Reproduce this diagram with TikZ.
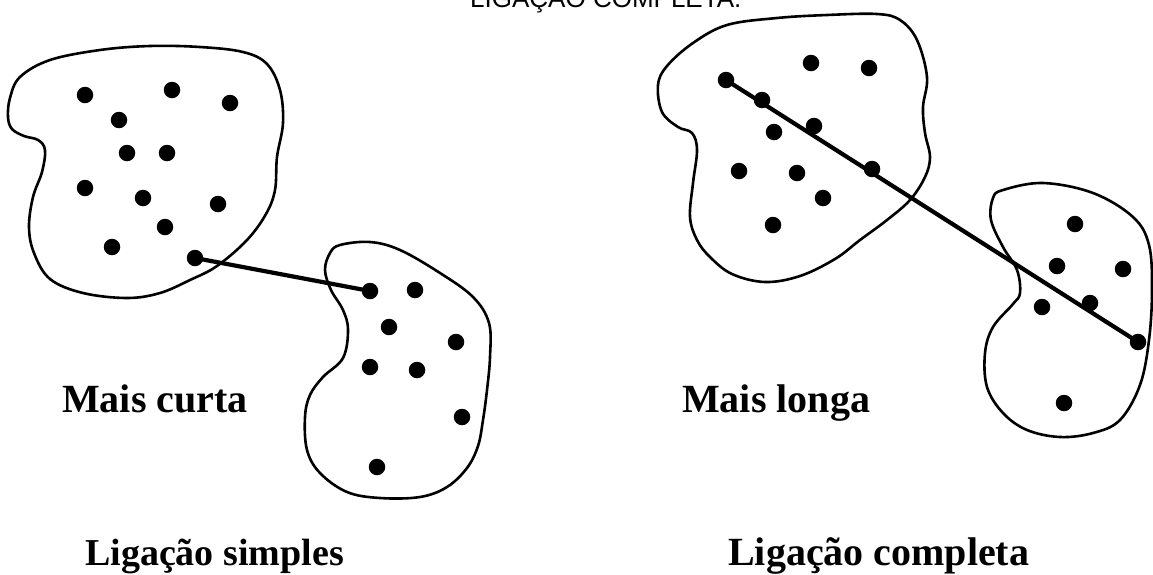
\documentclass[tikz,border=0pt]{standalone}
\usepackage{fontspec}
\setmainfont{Liberation Serif}
\newfontfamily\headfont{Liberation Sans}
\begin{document}
\begin{tikzpicture}[x=1pt,y=-1pt,
  blob/.style={draw=black,line width=2.6pt,line join=round},
  dot/.style={circle,fill=black,inner sep=0pt,minimum size=16.5pt},
  link/.style={draw=black,line width=4.2pt},
  caption/.style={anchor=base west,inner sep=0pt,font=\fontsize{40}{48}\selectfont\bfseries},
  title/.style={anchor=base west,inner sep=0pt,font=\headfont\fontsize{26}{31}\selectfont}]
\useasboundingbox (0,0) rectangle (1153,574);

% heading, partly cut by the top edge
\node[title] (head) at (470,7) {LIGAÇÃO COMPLETA.};

% ---------- single linkage ----------
\draw[blob] plot[smooth cycle,tension=0.6] coordinates {
  (20,77) (50,60) (100,50) (150,46) (200,47) (243,52) (267,64) (280,90)
  (283,123) (277,157) (275,190) (266,214) (247,240) (217,266) (190,280)
  (160,293) (127,298) (83,293) (50,279) (34,253) (29,227) (33,197)
  (42,172) (45,150) (38,140) (24,136) (12,129) (8,117) (10,98)};
\draw[blob] plot[smooth cycle,tension=0.6] coordinates {
  (340,245) (370,242) (400,250) (440,273) (473,297) (489,323) (490,357)
  (487,390) (483,420) (478,446) (467,468) (447,487) (420,497) (380,498)
  (347,492) (320,473) (307,450) (305,417) (310,395) (323,377) (343,358)
  (348,330) (343,310) (331,290) (325,270) (330,253)};

\foreach \n/\p in {a1/{(85,95)},a2/{(172,90)},a3/{(230,103)},a4/{(119,120)},
  a5/{(127,153)},a6/{(167,153)},a7/{(85,188)},a8/{(143,198)},a9/{(218,204)},
  a10/{(165,227)},a11/{(112,247)},a12/{(195,258)},
  b1/{(370,291)},b2/{(415,290)},b3/{(389,327)},b4/{(456,342)},b5/{(370,367)},
  b6/{(417,370)},b7/{(462,417)},b8/{(377,467)}}
  \node[dot] (\n) at \p {};

\draw[link] (a12.center) -- (b1.center);

\node[caption] (short) at (62,412) {Mais curta};
\node[caption,font=\fontsize{38}{46}\selectfont\bfseries] (single) at (85,565) {Ligação simples};

% ---------- complete linkage ----------
\draw[blob] plot[smooth cycle,tension=0.6] coordinates {
  (693,43) (727,25) (777,18) (827,15) (877,14) (900,20) (917,40) (927,77)
  (923,107) (925,133) (930,157) (925,177) (910,200) (887,220) (860,240)
  (835,259) (800,276) (765,282) (732,274) (710,257) (697,240) (690,217)
  (693,183) (697,150) (692,133) (678,127) (662,112) (658,85) (667,66)};
\draw[blob] plot[smooth cycle,tension=0.6] coordinates {
  (1003,190) (1043,183) (1093,193) (1133,217) (1149,245) (1152,290)
  (1149,340) (1140,385) (1120,420) (1093,433) (1060,437) (1027,430)
  (1003,413) (987,387) (985,353) (993,327) (1013,304) (1020,293)
  (1017,270) (1003,247) (991,220) (993,198)};

\foreach \n/\p in {c1/{(726,80)},c2/{(762,100)},c3/{(811,63)},c4/{(869,68)},
  c5/{(774,132)},c6/{(814,126)},c7/{(872,169)},c8/{(739,171)},c9/{(797,173)},
  c10/{(823,198)},c11/{(773,225)},
  d1/{(1075,224)},d2/{(1057,266)},d3/{(1123,269)},d4/{(1042,307)},
  d5/{(1090,303)},d6/{(1138,342)},d7/{(1064,403)}}
  \node[dot] (\n) at \p {};

\draw[link] (c1.center) -- (d6.center);

\node[caption] (long) at (682,412) {Mais longa};
\node[caption] (complete) at (728,565) {Ligação completa};
\end{tikzpicture}
\end{document}
